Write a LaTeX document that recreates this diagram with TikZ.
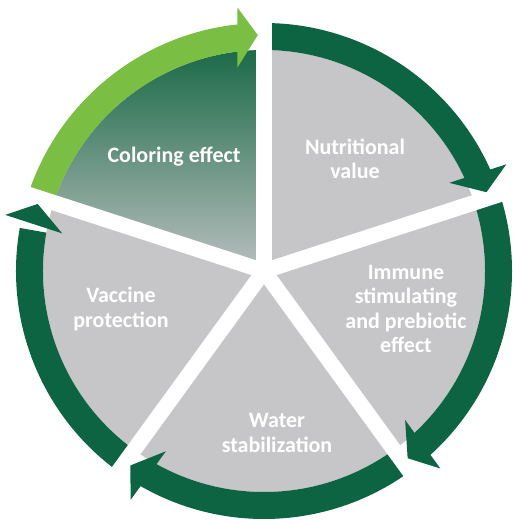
\documentclass[tikz,border=0pt]{standalone}
\usepackage{fontspec}
\setmainfont{Carlito}
\usetikzlibrary{calc}
\definecolor{darkgreen}{HTML}{0C6443}
\definecolor{lightgreen}{HTML}{7ABF43}
\definecolor{sectorgray}{HTML}{C6C6C8}
\definecolor{shadetop}{HTML}{1B6A48}
\definecolor{shadebottom}{HTML}{B9BFBF}
\tikzset{
  label text/.style={text=white, font=\fontsize{22}{24.5}\selectfont\bfseries, align=center},
  gap line/.style={white, line width=15.5pt},
}
\begin{document}
\begin{tikzpicture}[x=1pt,y=1pt]
        \useasboundingbox (-264,-251) rectangle (248,271);
        % Sectors
        \fill[sectorgray] (0,0) circle (221pt);
        \shade[top color=shadetop, bottom color=shadebottom] (0,0) -- (90:221pt) arc[start angle=90, end angle=162, radius=221pt] -- cycle;
        % Arrow bodies
        \fill[lightgreen] (162:248pt) arc[start angle=162, end angle=95, radius=248pt] -- (95:221pt) arc[start angle=95, end angle=162, radius=221pt] -- cycle;
        \fill[darkgreen] (90:248pt) arc[start angle=90, end angle=23, radius=248pt] -- (23:221pt) arc[start angle=23, end angle=90, radius=221pt] -- cycle;
        \fill[darkgreen] (18:248pt) arc[start angle=18, end angle=-49, radius=248pt] -- (-49:221pt) arc[start angle=-49, end angle=18, radius=221pt] -- cycle;
        \fill[darkgreen] (-54:248pt) arc[start angle=-54, end angle=-121, radius=248pt] -- (-121:221pt) arc[start angle=-121, end angle=-54, radius=221pt] -- cycle;
        \fill[darkgreen] (-126:248pt) arc[start angle=-126, end angle=-190, radius=248pt] -- (-190:221pt) arc[start angle=-190, end angle=-126, radius=221pt] -- cycle;
        % White gaps between the sectors
        \draw[gap line] (0,0) -- (90:262pt);
        \draw[gap line] (0,0) -- (18:262pt);
        \draw[gap line] (0,0) -- (-54:262pt);
        \draw[gap line] (0,0) -- (-126:262pt);
        \draw[gap line] (0,0) -- (162:262pt);
        % Arrow heads
        \fill[lightgreen] ($(96.5:235pt)+(90:30pt)$) -- (91.5:236pt) -- ($(96.5:235pt)-(90:30pt)$) -- cycle;
        \fill[darkgreen] ($(24.5:235pt)+(18:30pt)$) -- (19.5:236pt) -- ($(24.5:235pt)-(18:30pt)$) -- cycle;
        \fill[darkgreen] ($(-47.5:235pt)+(-54:30pt)$) -- (-52.5:236pt) -- ($(-47.5:235pt)-(-54:30pt)$) -- cycle;
        \fill[darkgreen] ($(-119.5:235pt)+(-126:30pt)$) -- (-124.5:236pt) -- ($(-119.5:235pt)-(-126:30pt)$) -- cycle;
        \fill[darkgreen] ($(168.5:235pt)+(162:30pt)$) -- (163.5:236pt) -- ($(168.5:235pt)-(162:30pt)$) -- cycle;
        % Texts
        \node[label text] (coloring) at (-90,114) {Coloring effect};
        \node[label text] (nutrition) at (91,112) {Nutritional\\value};
        \node[label text] (immune) at (142,-38) {Immune\\stimulating\\and prebiotic\\effect};
        \node[label text] (water) at (13,-162) {Water\\stabilization};
        \node[label text] (vaccine) at (-143,-38) {Vaccine\\protection};
\end{tikzpicture}
\end{document}
